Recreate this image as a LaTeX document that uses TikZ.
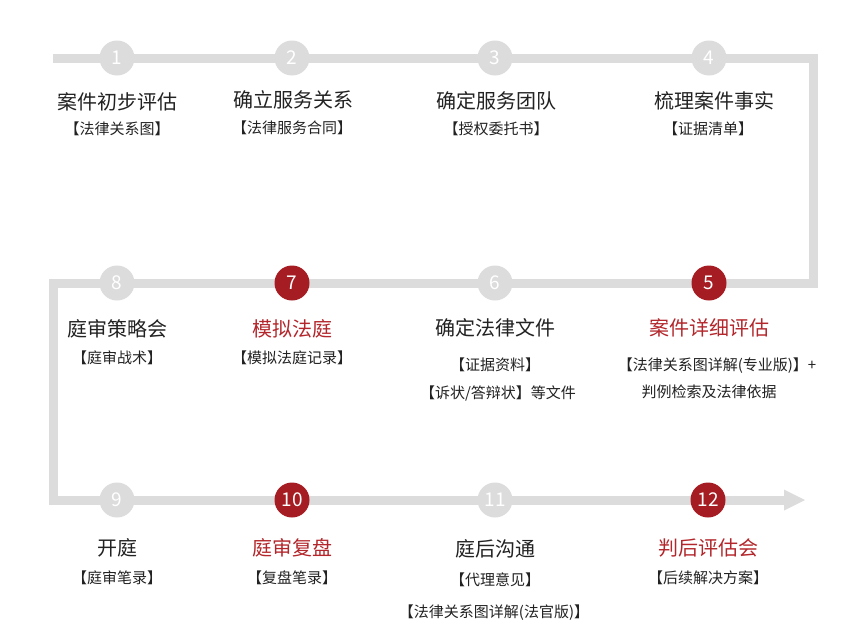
\documentclass[tikz,border=0pt]{standalone}
\usepackage{fontspec}
\setmainfont{Noto Sans CJK SC}
\definecolor{trackgray}{HTML}{DCDCDC}
\definecolor{stepred}{HTML}{A51C22}
\definecolor{titlered}{HTML}{B3262B}
\definecolor{ink}{HTML}{222222}
\begin{document}
\begin{tikzpicture}[x=1pt,y=-1pt,
  track/.style={draw=trackgray,line width=9pt,line join=miter},
  graydot/.style={circle,fill=trackgray,minimum size=35pt,inner sep=0pt,text=white,font=\fontsize{19}{19}\selectfont},
  reddot/.style={circle,fill=stepred,minimum size=35pt,inner sep=0pt,text=white,font=\fontsize{19}{19}\selectfont},
  title/.style={text=ink,font=\fontsize{20}{20}\selectfont,inner sep=0pt},
  redtitle/.style={text=titlered,font=\fontsize{20}{20}\selectfont,inner sep=0pt},
  sub/.style={text=ink,font=\fontsize{15}{15}\selectfont,inner sep=0pt}]
\useasboundingbox[fill=white] (0,0) rectangle (868,637);
% track coordinates
\coordinate (s) at (53,58);
\coordinate (p1) at (117,58);
\coordinate (p2) at (292,58);
\coordinate (p3) at (495,58);
\coordinate (p4) at (709,58);
\coordinate (k1) at (813,58);
\coordinate (k2) at (813,283);
\coordinate (p5) at (709,283);
\coordinate (p6) at (495,283);
\coordinate (p7) at (292,283);
\coordinate (p8) at (117,283);
\coordinate (k3) at (53,283);
\coordinate (k4) at (53,500);
\coordinate (p9) at (117,500);
\coordinate (p10) at (292,500);
\coordinate (p11) at (495,500);
\coordinate (p12) at (708,500);
\coordinate (e) at (784,500);
\coordinate (tip) at (805,500);
\draw[track] (s) -- (k1) -- (k2) -- (k3) -- (k4) -- (e);
\fill[trackgray] (784,489.5) -- (tip) -- (784,510.5) -- cycle;
% circles
\node[graydot] (n1) at (p1) {1};
\node[graydot] (n2) at (p2) {2};
\node[graydot] (n3) at (p3) {3};
\node[graydot] (n4) at (p4) {4};
\node[reddot] (n5) at (p5) {5};
\node[graydot] (n6) at (p6) {6};
\node[reddot] (n7) at (p7) {7};
\node[graydot] (n8) at (p8) {8};
\node[graydot] (n9) at (p9) {9};
\node[reddot] (n10) at (p10) {10};
\node[graydot] (n11) at (p11) {11};
\node[reddot] (n12) at (p12) {12};
% row 1 texts
\node[title] (t1) at (117,102) {案件初步评估};
\node[sub] (s1) at (117,129) {【法律关系图】};
\node[title] (t2) at (293,100) {确立服务关系};
\node[sub] (s2) at (292,128) {【法律服务合同】};
\node[title] (t3) at (496,101) {确定服务团队};
\node[sub] (s3) at (496,129) {【授权委托书】};
\node[title] (t4) at (714,101) {梳理案件事实};
\node[sub] (s4) at (708,129) {【证据清单】};
% row 2 texts
\node[title] (t8) at (117,329) {庭审策略会};
\node[sub] (s8) at (117,358) {【庭审战术】};
\node[redtitle] (t7) at (292,329) {模拟法庭};
\node[sub] (s7) at (292,358) {【模拟法庭记录】};
\node[title] (t6) at (495,328) {确定法律文件};
\node[sub] (s6a) at (495,365) {【证据资料】};
\node[sub] (s6b) at (498,393) {【诉状/答辩状】等文件};
\node[redtitle] (t5) at (709,328) {案件详细评估};
\node[sub] (s5a) at (717,366) {【法律关系图详解(专业版)】+};
\node[sub] (s5b) at (709,392) {判例检索及法律依据};
% row 3 texts
\node[title] (t9) at (117,548) {开庭};
\node[sub] (s9) at (117,578) {【庭审笔录】};
\node[redtitle] (t10) at (292,548) {庭审复盘};
\node[sub] (s10) at (292,578) {【复盘笔录】};
\node[title] (t11) at (495,549) {庭后沟通};
\node[sub] (s11a) at (495,580) {【代理意见】};
\node[sub] (s11b) at (494,613) {【法律关系图详解(法官版)】};
\node[redtitle] (t12) at (708,548) {判后评估会};
\node[sub] (s12) at (708,578) {【后续解决方案】};
\end{tikzpicture}
\end{document}
